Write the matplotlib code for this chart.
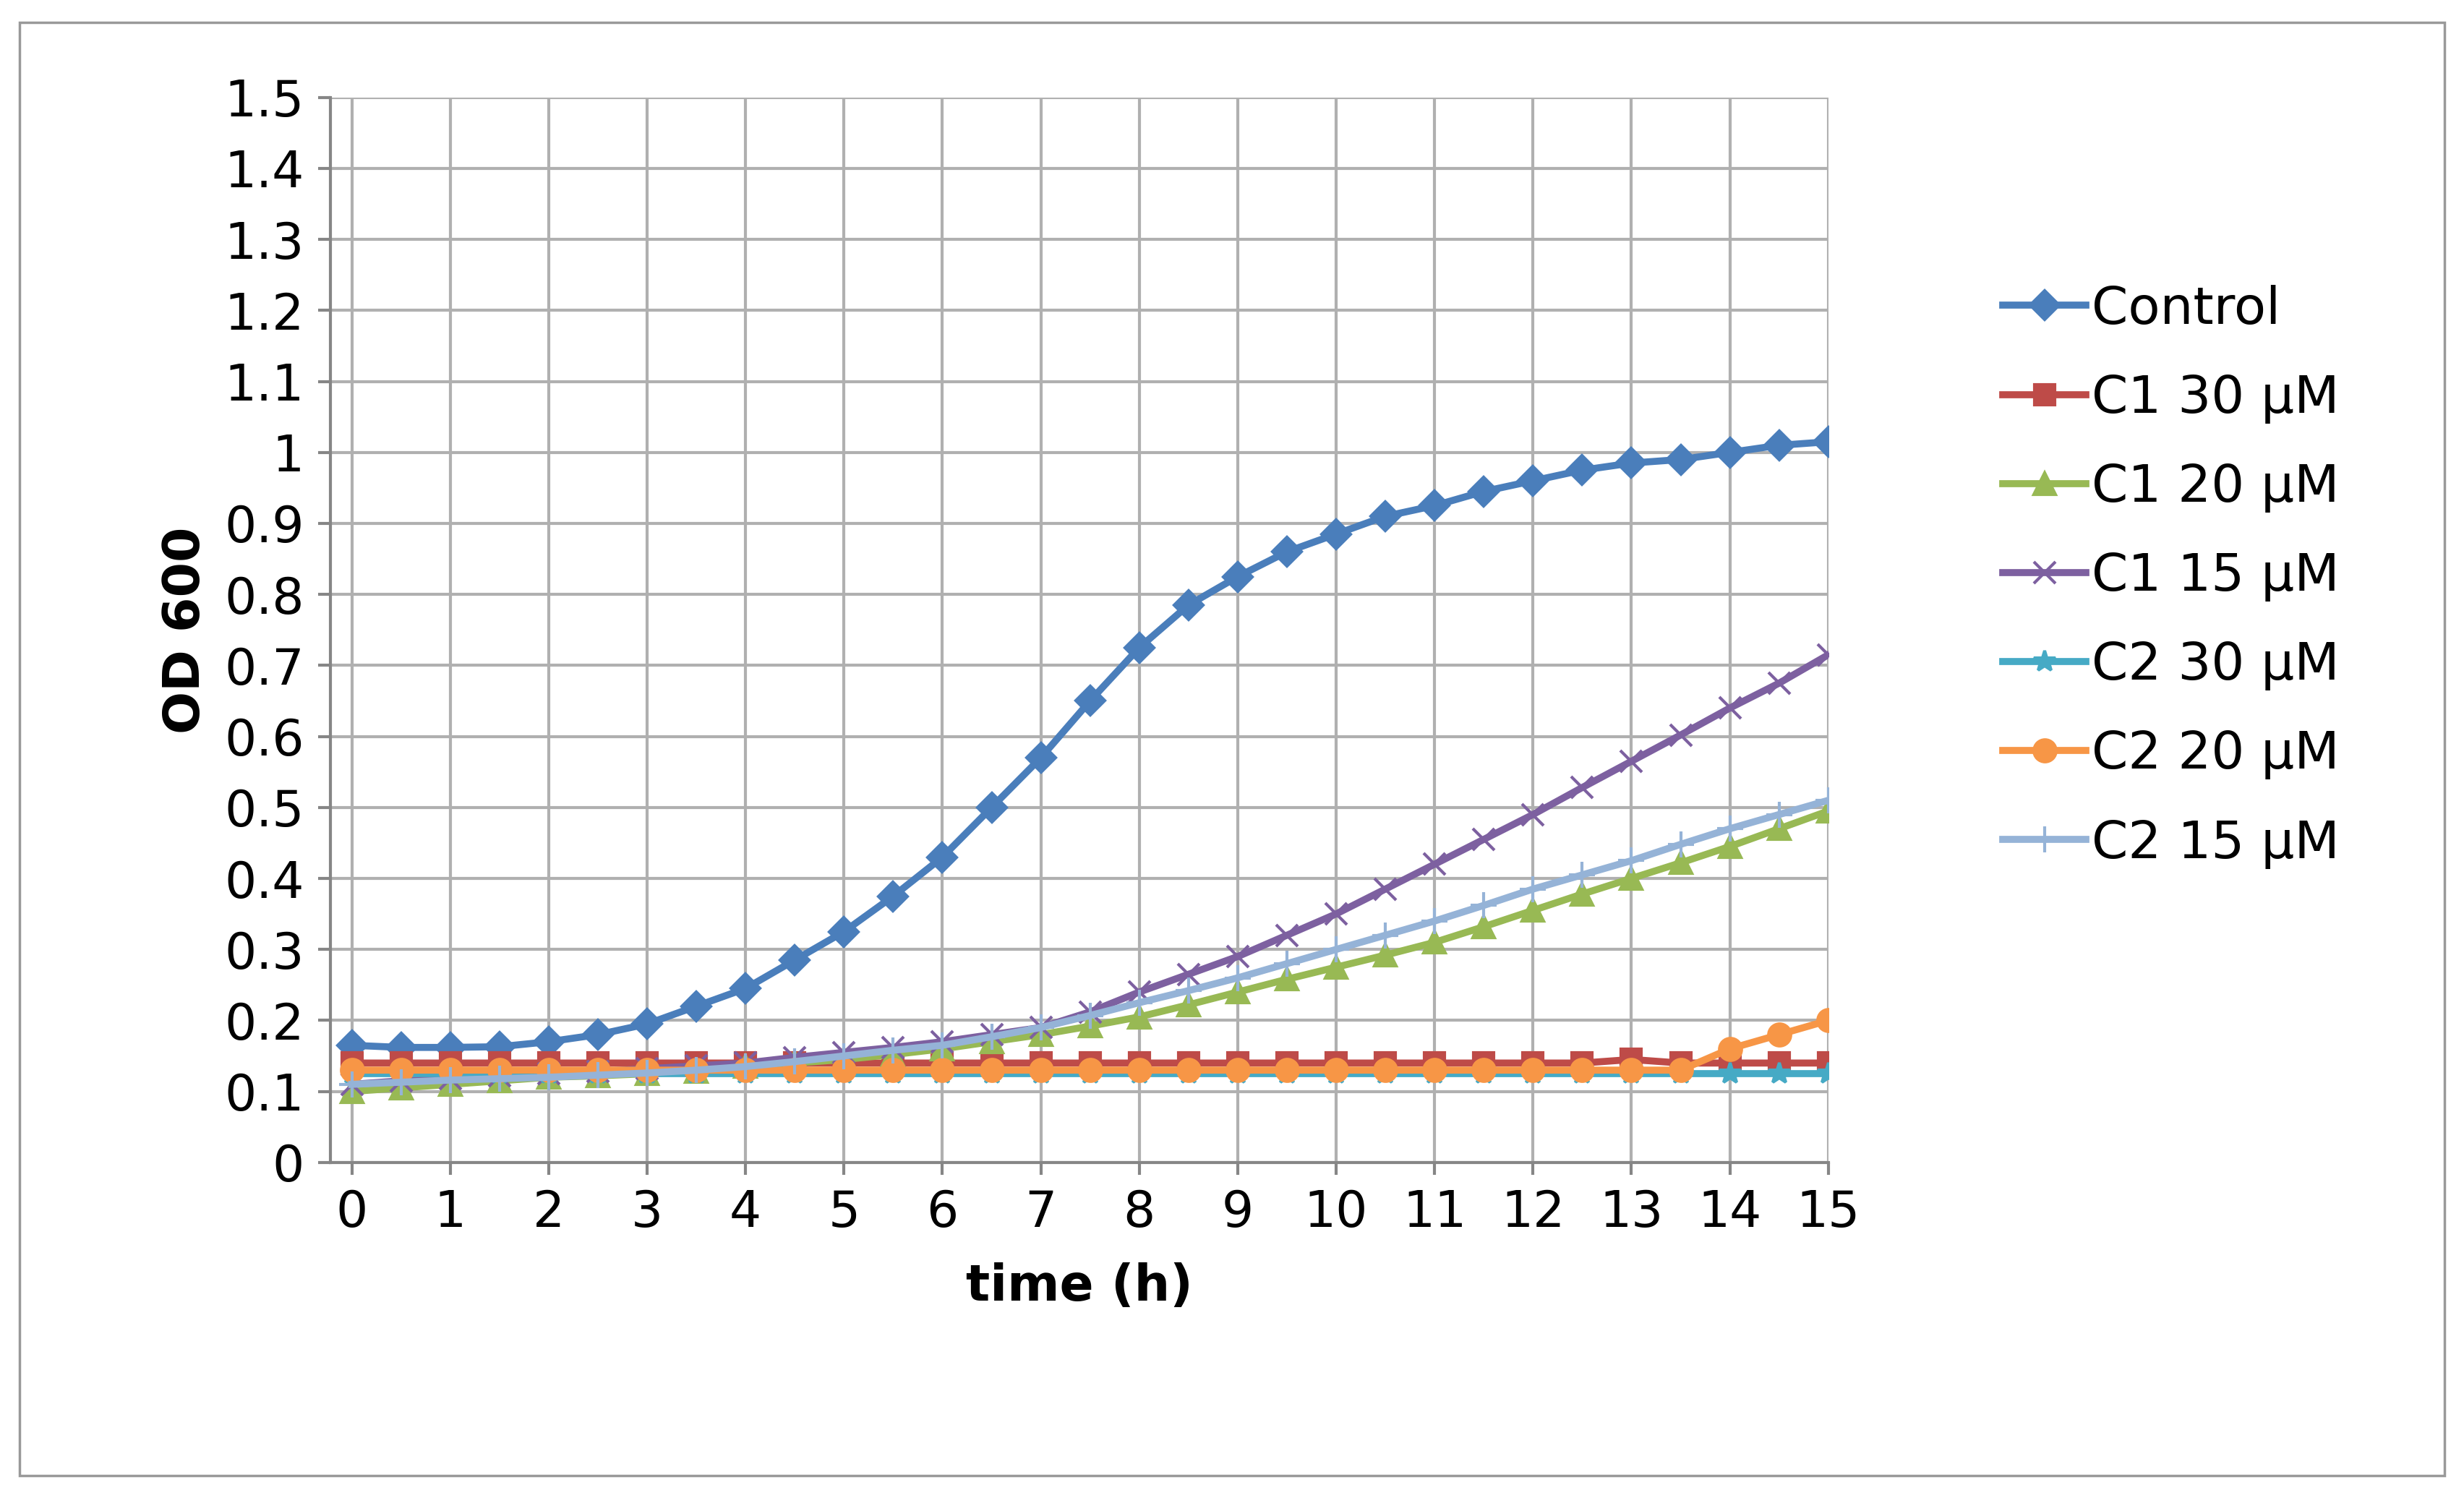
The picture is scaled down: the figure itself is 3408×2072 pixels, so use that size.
import numpy as np
import matplotlib
matplotlib.use("Agg")
import matplotlib.pyplot as plt
from matplotlib.patches import Rectangle

t = np.arange(0, 15.01, 0.5)
control = [0.165,0.162,0.162,0.163,0.17,0.18,0.195,0.22,0.245,0.285,0.325,0.375,0.43,0.5,0.57,0.65,
           0.725,0.785,0.825,0.86,0.885,0.91,0.925,0.945,0.96,0.975,0.985,0.99,1.0,1.01,1.015]
c1_30 = [0.14]*26 + [0.145,0.14,0.14,0.14,0.14]
c1_20 = [0.10,0.105,0.11,0.115,0.12,0.122,0.125,0.128,0.135,0.14,0.145,0.152,0.16,0.17,0.18,0.192,
         0.205,0.222,0.24,0.258,0.275,0.292,0.31,0.332,0.355,0.378,0.40,0.422,0.445,0.47,0.495]
c1_15 = [0.11,0.115,0.118,0.122,0.125,0.128,0.132,0.136,0.14,0.148,0.155,0.162,0.17,0.18,0.19,0.212,
         0.24,0.265,0.29,0.32,0.35,0.385,0.42,0.455,0.49,0.528,0.565,0.602,0.64,0.675,0.715]
c2_30 = [0.125]*31
c2_20 = [0.13]*28 + [0.16,0.18,0.2]
c2_15 = [0.11,0.113,0.116,0.118,0.12,0.123,0.126,0.13,0.135,0.142,0.15,0.158,0.165,0.177,0.19,0.207,
         0.225,0.242,0.26,0.28,0.30,0.32,0.34,0.362,0.385,0.405,0.425,0.448,0.47,0.49,0.51]

series = [("Control", control, "#4a7ebb", "D", 20),
          ("C1 30 µM", c1_30, "#be4b48", "s", 20),
          ("C1 20 µM", c1_20, "#98b954", "^", 22),
          ("C1 15 µM", c1_15, "#7d60a0", "x", 22),
          ("C2 30 µM", c2_30, "#46aac5", "*", 22),
          ("C2 20 µM", c2_20, "#f79646", "o", 22),
          ("C2 15 µM", c2_15, "#95b3d7", "+", 26)]

fig = plt.figure(figsize=(34.08, 20.72), dpi=100)
fig.patches.append(Rectangle((0.008, 0.015), 0.984, 0.97, transform=fig.transFigure,
                             fill=False, edgecolor="#999999", lw=2.5))
ax = fig.add_axes([0.134, 0.224, 0.608, 0.711])
for name, y, c, m, ms in series:
    ax.plot(t, y, color=c, lw=7, marker=m, markersize=ms, mew=3, label=name)
ax.set_xlim(-0.22, 15)
ax.set_ylim(0, 1.5)
ax.set_xticks(range(16))
ax.set_yticks(np.arange(0, 1.51, 0.1))
ax.set_yticklabels(["0"] + [f"{v:.1f}" for v in np.arange(0.1, 1.51, 0.1)][:9] + ["1"] +
                   [f"{v:.1f}" for v in np.arange(1.1, 1.51, 0.1)])
ax.grid(True, color="#b0b0b0", lw=3)
ax.set_axisbelow(True)
for s in ["top", "right"]:
    ax.spines[s].set_visible(False)
for s in ["left", "bottom"]:
    ax.spines[s].set_color("#868686"); ax.spines[s].set_linewidth(3)
ax.tick_params(labelsize=50, length=12, width=3, color="#868686", pad=14)
ax.set_xlabel("time (h)", fontsize=50, fontweight="bold", labelpad=25)
ax.set_ylabel("OD 600", fontsize=50, fontweight="bold", labelpad=14)
ax.legend(loc="center left", bbox_to_anchor=(1.085, 0.55), frameon=False, fontsize=52,
          handlelength=1.6, labelspacing=0.75, handletextpad=0.1)
fig.savefig("out.png", dpi=100)
